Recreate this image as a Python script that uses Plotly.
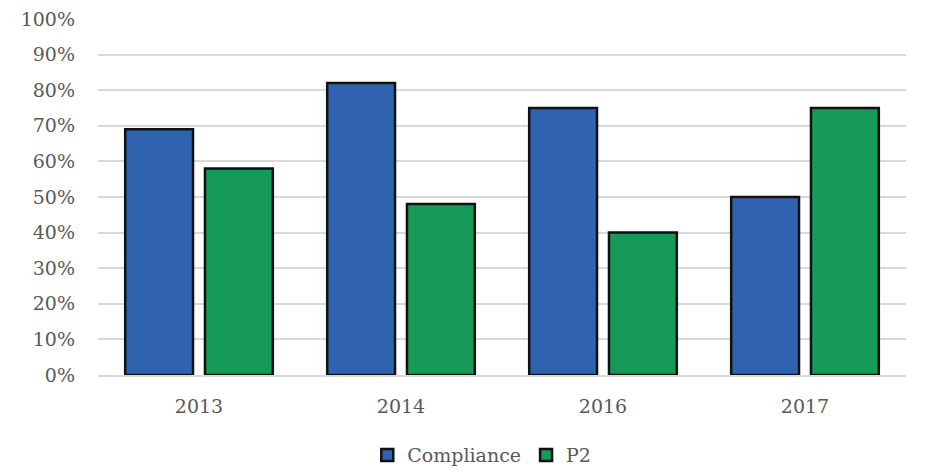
import plotly.graph_objects as go

years = ["2013", "2014", "2016", "2017"]
compliance = [0.69, 0.82, 0.75, 0.50]
p2 = [0.58, 0.48, 0.40, 0.75]
y_ticks = [i / 10 for i in range(11)]
y_tick_labels = [f"{i*10}%" for i in range(11)]

font_family = "DejaVu Serif, Liberation Serif, serif"
text_color = "#595959"

fig = go.Figure()
fig.add_trace(go.Bar(
    x=years, y=compliance, name="Compliance",
    marker=dict(color="#2f63b0", line=dict(color="#111111", width=2.5)),
))
fig.add_trace(go.Bar(
    x=years, y=p2, name="P2",
    marker=dict(color="#159a57", line=dict(color="#111111", width=2.5)),
))

fig.update_layout(
    width=933, height=476,
    margin=dict(l=98, r=27, t=19, b=101, autoexpand=False),
    paper_bgcolor="white", plot_bgcolor="white",
    barmode="group", bargap=0.21, bargroupgap=0.15,
    font=dict(family=font_family, size=19, color=text_color),
    legend=dict(orientation="h", x=0.475, xanchor="center",
                yref="container", y=0.044, yanchor="middle",
                font=dict(size=19, color=text_color), itemwidth=30,
                traceorder="normal"),
    showlegend=True,
)
fig.update_yaxes(
    range=[0, 1.0], tickvals=y_ticks, ticktext=y_tick_labels,
    showgrid=True, gridcolor="#d9d9d9", gridwidth=1.5,
    zeroline=False, showline=False, ticks="", ticklabelstandoff=22,
    automargin=False,
)
fig.update_xaxes(
    showline=True, linecolor="#d9d9d9", linewidth=1.5, ticks="",
    ticklabelstandoff=13, automargin=False,
)

fig.write_html("out.html")
